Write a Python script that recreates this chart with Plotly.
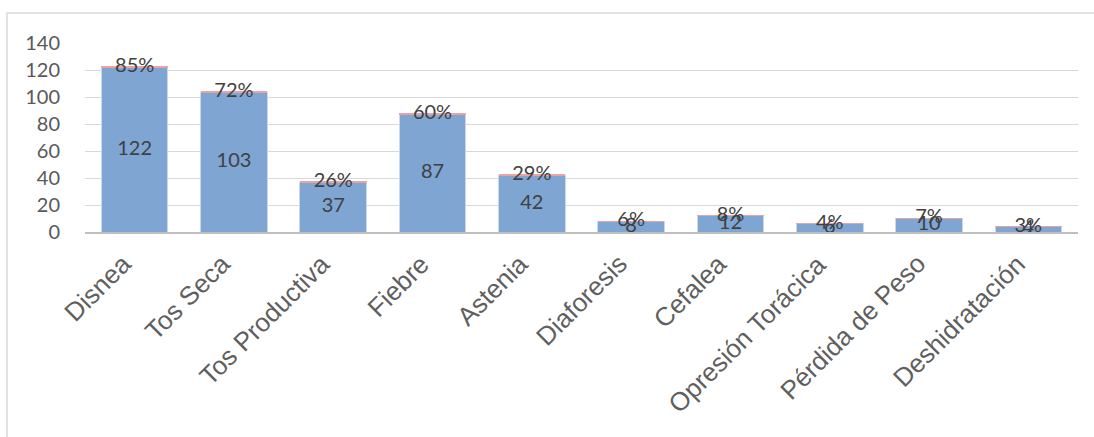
import plotly.graph_objects as go

categories = ["Disnea", "Tos Seca", "Tos Productiva", "Fiebre", "Astenia",
              "Diaforesis", "Cefalea", "Opresión Torácica", "Pérdida de Peso", "Deshidratación"]
counts = [122, 103, 37, 87, 42, 8, 12, 6, 10, 4]
percents = [0.85, 0.72, 0.26, 0.60, 0.29, 0.06, 0.08, 0.04, 0.07, 0.03]
y_ticks = [0, 20, 40, 60, 80, 100, 120, 140]

BLUE = "#7FA5D2"
RED = "#EBA3A1"
LABEL_FONT = dict(family="Lato", size=20, color="#404040")

fig = go.Figure()
fig.add_trace(go.Bar(x=categories, y=counts, marker=dict(color=BLUE, line=dict(color="#C9D8EC", width=1)),
                     width=0.67, hoverinfo="skip", showlegend=False))
fig.add_trace(go.Bar(x=categories, y=percents, marker=dict(color=RED, line=dict(width=0)),
                     width=0.67, hoverinfo="skip", showlegend=False))

# count labels centred in the blue segment
fig.add_trace(go.Scatter(x=categories, y=[c / 2 for c in counts], mode="text",
                         text=[str(c) for c in counts], textposition="middle center",
                         textfont=LABEL_FONT, showlegend=False, hoverinfo="skip"))
# percent labels centred in the red segment
fig.add_trace(go.Scatter(x=categories, y=[c + p / 2 for c, p in zip(counts, percents)], mode="text",
                         text=[f"{round(p * 100)}%" for p in percents], textposition="middle center",
                         textfont=LABEL_FONT, showlegend=False, hoverinfo="skip"))

# outer chart border (only top/left visible in frame)
pl, pr, pt, pb = 85, 1078, 43, 232
pw, ph = pr - pl, pb - pt
fig.add_shape(type="rect", xref="paper", yref="paper",
              x0=(7 - pl) / pw, x1=(1110 - pl) / pw,
              y0=(pb - 460) / ph, y1=(pb - 13) / ph,
              line=dict(color="#D9D9D9", width=1.5), fillcolor="rgba(0,0,0,0)", layer="below")

# rotated category labels
for cat in categories:
    fig.add_annotation(x=cat, xref="x", y=(pb - 246) / ph, yref="paper",
                       text=cat, textangle=-45, showarrow=False,
                       xanchor="right", yanchor="top", xshift=5,
                       font=dict(family="Liberation Sans", size=26, color="#5F5F5F"))

fig.update_layout(
    barmode="stack",
    width=1094, height=437,
    margin=dict(l=pl, r=1094 - pr, t=pt, b=437 - pb),
    paper_bgcolor="white", plot_bgcolor="white",
)
fig.update_xaxes(
    showticklabels=False,
    showgrid=False, showline=True, linecolor="#BFBFBF", linewidth=1.5,
    range=[-0.5, len(categories) - 0.5],
)
fig.update_yaxes(
    range=[0, 140], tickvals=y_ticks, ticktext=[str(v) for v in y_ticks],
    tickfont=dict(family="Lato", size=20, color="#595959"),
    showgrid=True, gridcolor="#D9D9D9", gridwidth=1.3,
    zeroline=False, ticks="outside", ticklen=20, tickcolor="rgba(0,0,0,0)",
)

fig.write_html("out.html")
